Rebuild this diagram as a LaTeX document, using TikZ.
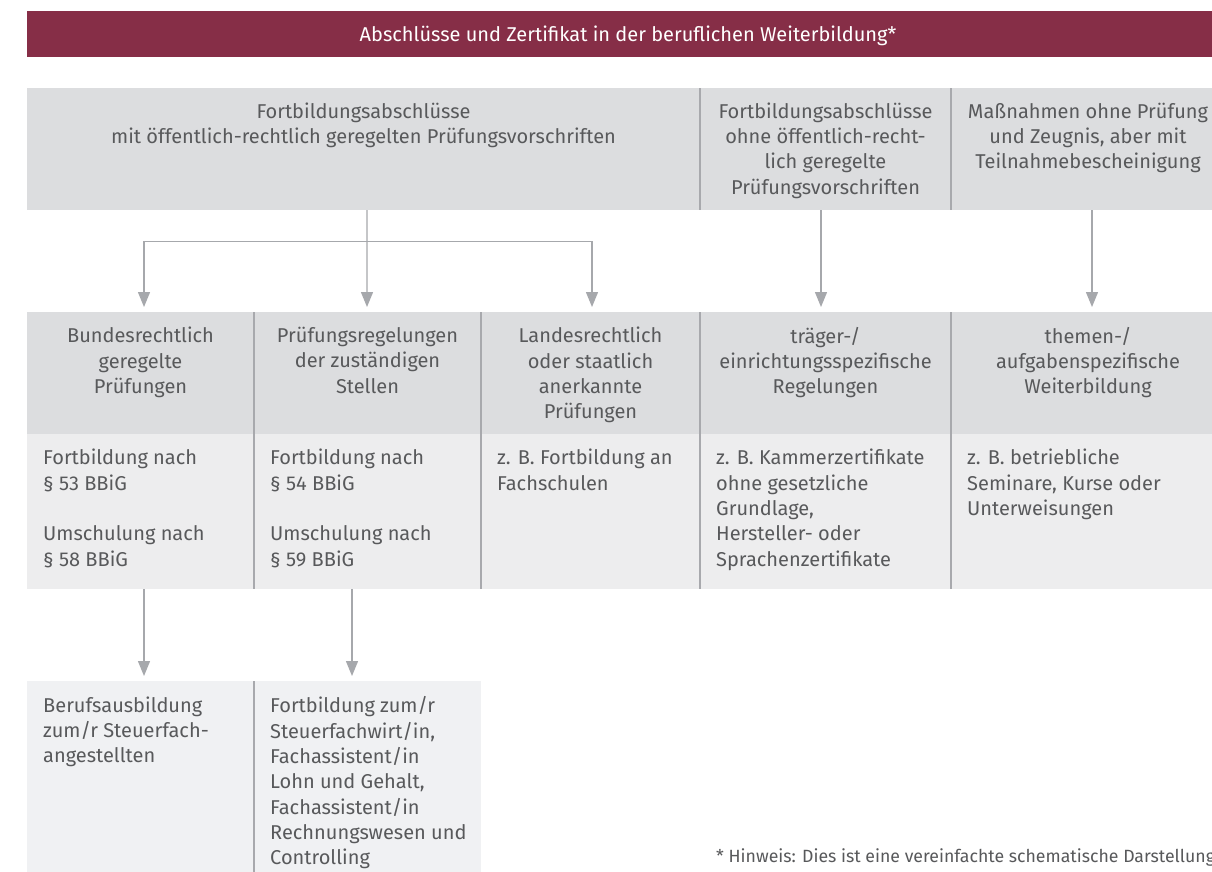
\documentclass[tikz,border=0pt]{standalone}
\usepackage{fontspec}
\setmainfont{Fira Sans}
\usepackage{xcolor}
\usepackage{tikz}
\usetikzlibrary{positioning, arrows.meta}
\definecolor{banner}{RGB}{134,46,71}
\definecolor{headfill}{RGB}{220,221,223}
\definecolor{bodyfill}{RGB}{237,237,238}
\definecolor{lowfill}{RGB}{240,241,243}
\definecolor{rule}{RGB}{168,169,173}
\definecolor{arrowgray}{RGB}{166,168,172}
\definecolor{txt}{RGB}{88,89,91}
\newcommand\cellfont{\fontsize{20bp}{25.3bp}\selectfont}
\newcommand\notefont{\fontsize{17.7bp}{22bp}\selectfont}
\tikzset{
  cell/.style     ={rectangle, anchor=north west, inner sep=0pt, outer sep=0pt, draw=none},
  headcell/.style ={cell, fill=headfill},
  bodycell/.style ={cell, fill=bodyfill},
  lowcell/.style  ={cell, fill=lowfill},
  headtext/.style ={inner sep=0pt, align=center, font=\cellfont, color=txt},
  bodytext/.style ={inner sep=0pt, align=left, font=\cellfont, color=txt},
  divider/.style  ={draw=rule, line width=1.5bp},
  arr/.style      ={-{Triangle[length=15bp, width=12bp]}, line width=1.3bp, color=arrowgray, shorten >=5bp},
}

\begin{document}
\begin{tikzpicture}[x=1bp, y=-1bp]
\clip (0,0) rectangle (1212,872);
\fill[white] (0,0) rectangle (1212,872);

% title bar
\node[cell, fill=banner, minimum width=1200bp, minimum height=45.5bp] (bar) at (27,11) {};
\node[inner sep=0pt, anchor=base, font=\fontsize{20bp}{24bp}\selectfont, color=white] (title) at (628,41.7)
  {Abschlüsse und Zertifikat in der beruflichen Weiterbildung*};

% top row
\foreach \i/\x/\w/\label in {1/27/673/{Fortbildungsabschlüsse\\mit öffentlich-rechtlich geregelten Prüfungsvorschriften},
                             2/700/251/{Fortbildungsabschlüsse\\ohne öffentlich-recht-\\lich geregelte\\Prüfungsvorschriften},
                             3/951/274/{Maßnahmen ohne Prüfung\\und Zeugnis, aber mit\\Teilnahmebescheinigung}} {
  \node[headcell, minimum width=\w bp, minimum height=122bp] (top\i) at (\x,88) {};
  \node[headtext, below=14.5bp of top\i.north] (topt\i) {\label};
}

% second row: headers
\foreach \i/\x/\w/\label in {1/27/227/{Bundesrechtlich\\geregelte\\Prüfungen},
                             2/254/227/{Prüfungsregelungen\\der zuständigen\\Stellen},
                             3/481/219/{Landesrechtlich\\oder staatlich\\anerkannte\\Prüfungen},
                             4/700/251/{träger-/\\einrichtungsspezifische\\Regelungen},
                             5/951/274/{themen-/\\aufgabenspezifische\\Weiterbildung}} {
  \node[headcell, minimum width=\w bp, minimum height=122bp] (hd\i) at (\x,312) {};
  \node[headtext, below=15bp of hd\i.north] (hdt\i) {\label};
}

% second row: examples
\foreach \i/\x/\w/\label in {1/27/227/{Fortbildung nach\\§ 53 BBiG\\[25.3bp]Umschulung nach\\§ 58 BBiG},
                             2/254/227/{Fortbildung nach\\§ 54 BBiG\\[25.3bp]Umschulung nach\\§ 59 BBiG},
                             3/481/219/{z. B. Fortbildung an\\Fachschulen},
                             4/700/251/{z. B. Kammerzertifikate\\ohne gesetzliche\\Grundlage,\\Hersteller- oder\\Sprachenzertifikate},
                             5/951/274/{z. B. betriebliche\\Seminare, Kurse oder\\Unterweisungen}} {
  \node[bodycell, minimum width=\w bp, minimum height=155bp] (bd\i) at (\x,434) {};
  \node[bodytext, below right=15bp and 16bp of bd\i.north west] (bdt\i) {\label};
}

% bottom row
\node[lowcell, minimum width=227bp, minimum height=200bp] (ex1) at (27,681) {};
\node[lowcell, minimum width=227bp, minimum height=200bp] (ex2) at (254,681) {};
\node[bodytext, below right=15.5bp and 16bp of ex1.north west] (ext1)
  {Berufsausbildung\\zum/r Steuerfach-\\angestellten};
\node[bodytext, below right=15.5bp and 16bp of ex2.north west] (ext2)
  {Fortbildung zum/r\\Steuerfachwirt/in,\\Fachassistent/in\\Lohn und Gehalt,\\Fachassistent/in\\Rechnungswesen und\\Controlling};

% column rules
\foreach \c in {2,3} {
  \draw[divider] (top\c.north west) -- (top\c.south west);
}
\foreach \c in {2,3,4,5} {
  \draw[divider] (hd\c.north west) -- (bd\c.south west);
}
\draw[divider] (ex2.north west) -- (ex2.south west);

% arrows
\coordinate (fork) at (367,241.5);
\draw[arr] ([xshift=3.5bp]top1.south) -- ([xshift=-0.5bp]hd2.north);
\draw[arr] (fork) -| ([xshift=3.5bp]hd1.north);
\draw[arr] (fork) -| ([xshift=1.5bp]hd3.north);
\draw[arr] ([xshift=-4.5bp]top2.south) -- ([xshift=-4.5bp]hd4.north);
\draw[arr] ([xshift=4bp]top3.south) -- ([xshift=4bp]hd5.north);
\draw[arr] ([xshift=3.5bp]bd1.south) -- ([xshift=3.5bp]ex1.north);
\draw[arr] ([xshift=-15.5bp]bd2.south) -- ([xshift=-15.5bp]ex2.north);

% footnote
\node[inner sep=0pt, anchor=base west, font=\notefont, color=txt] (note) at (716,862)
  {* Hinweis: Dies ist eine vereinfachte schematische Darstellung};
\end{tikzpicture}
\end{document}
